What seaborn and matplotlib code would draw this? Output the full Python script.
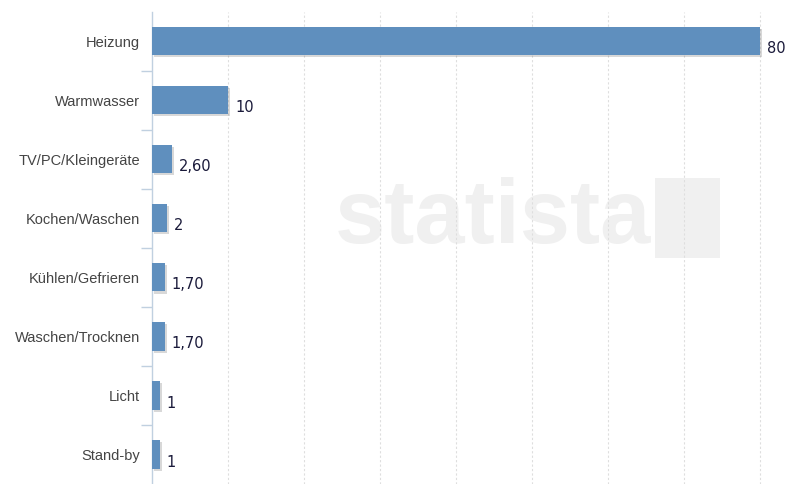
import matplotlib
matplotlib.use("Agg")
import matplotlib.pyplot as plt
import matplotlib.patheffects as pe
import seaborn as sns
import pandas as pd
import numpy as np

categories = ["Heizung", "Warmwasser", "TV/PC/Kleingeräte", "Kochen/Waschen",
              "Kühlen/Gefrieren", "Waschen/Trocknen", "Licht", "Stand-by"]
values = [80, 10, 2.6, 2, 1.7, 1.7, 1, 1]
value_labels = ["80", "10", "2,60", "2", "1,70", "1,70", "1", "1"]

df = pd.DataFrame({"cat": categories, "val": values})

sns.set_style("white")
plt.rcParams["font.family"] = ["Liberation Sans", "DejaVu Sans"]

fig = plt.figure(figsize=(7.88, 4.84), dpi=100)
ax = fig.add_axes([152/788, 0.0, (788-152)/788, 1 - 11.5/484])

sns.barplot(data=df, y="cat", x="val", orient="h", color="#5f8fbe", saturation=1,
            width=0.48, ax=ax, zorder=3, linewidth=0)

for p in list(ax.patches):
    p.set_path_effects([pe.SimplePatchShadow(offset=(1.5, -1.5), shadow_rgbFace="#666666", alpha=0.25),
                        pe.Normal()])

# watermark
ax.text(0.288, 0.56, "statista", transform=ax.transAxes, fontsize=65, fontweight="bold",
        color="#f0f0f0", ha="left", va="center", zorder=0, family="Liberation Sans")
ax.add_patch(plt.Rectangle((0.791, 0.478), 0.102, 0.169, transform=ax.transAxes,
                           color="#f0f0f0", zorder=0, lw=0))

ax.set_xlim(0, 80 * (788 - 152) / 608)
ax.set_ylim(len(categories) - 0.5, -0.5)

for i, (v, lab) in enumerate(zip(values, value_labels)):
    ax.annotate(lab, xy=(v, i), xytext=(5, -5.5), textcoords="offset points",
                ha="left", va="center", fontsize=10.5, color="#1a1a3a", family="DejaVu Sans")

ax.set_xticks(np.arange(10, 81, 10))
ax.xaxis.grid(True, color="#dedede", linestyle=(0, (2, 2)), linewidth=0.8)
ax.set_axisbelow(True)
ax.tick_params(axis="x", bottom=False, labelbottom=False)

ax.set_yticks(range(len(categories)))
ax.set_yticklabels(categories, fontsize=10.5, color="#444444")
ax.set_yticks(np.arange(0.5, len(categories) - 0.5, 1), minor=True)
ax.tick_params(axis="y", which="major", length=0, pad=8.5)
ax.tick_params(axis="y", which="minor", length=8, color="#c0d0e0", width=1, left=True)

ax.set_xlabel("")
ax.set_ylabel("")
for s in ["top", "right", "bottom"]:
    ax.spines[s].set_visible(False)
ax.spines["left"].set_color("#c0d0e0")
ax.spines["left"].set_linewidth(1)

fig.savefig("out.png", dpi=100)
